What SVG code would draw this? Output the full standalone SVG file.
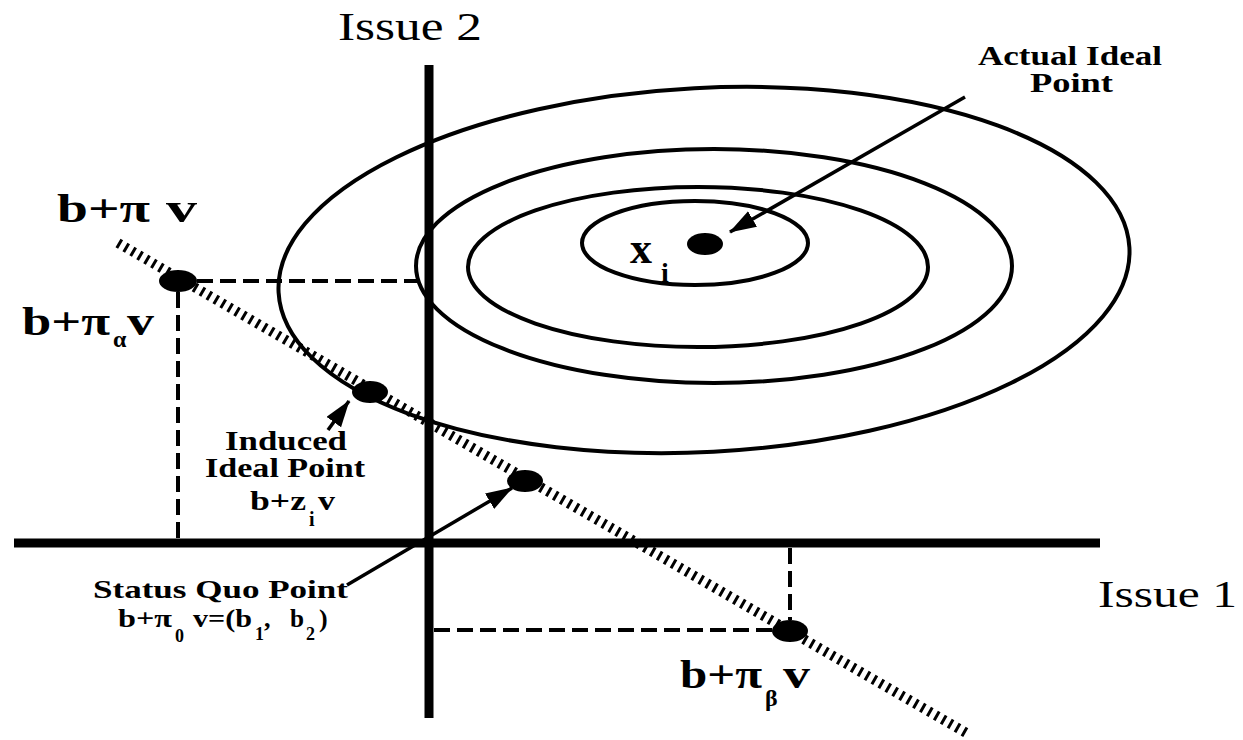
<svg xmlns="http://www.w3.org/2000/svg" width="1243" height="740" viewBox="0 0 1243 740">
<style>
.axis{stroke:#000;stroke-width:9;fill:none}
.ell{stroke:#000;stroke-width:4;fill:none}
.dash{stroke:#000;stroke-width:4;stroke-dasharray:16 7;fill:none}
.hatch{stroke:#000;stroke-width:10;stroke-dasharray:3 5;fill:none}
.arr{stroke:#000;stroke-width:3.5;fill:none}
.dot{fill:#000}
.lbl{font-family:"Liberation Serif","Times New Roman",serif;font-weight:bold;fill:#000}
.ax{font-family:"Liberation Serif","Times New Roman",serif;fill:#000}
</style>
<defs>
<marker id="ah" markerUnits="userSpaceOnUse" markerWidth="30" markerHeight="20" refX="26" refY="9" orient="auto">
<path d="M0,0 L27,9 L0,18 Z" fill="#000"/>
</marker>
</defs>
<rect width="1243" height="740" fill="#fff"/>
<g id="axes">
<line class="axis" x1="14" y1="543" x2="1100" y2="543"/>
<line class="axis" x1="429" y1="65" x2="429" y2="718"/>
</g>
<g id="ellipses">
<ellipse class="ell" cx="704" cy="270" rx="426" ry="182" transform="rotate(-3 704 270)"/>
<ellipse class="ell" cx="714" cy="266" rx="298" ry="117"/>
<ellipse class="ell" cx="698" cy="267" rx="230" ry="80"/>
<ellipse class="ell" cx="695" cy="243" rx="113" ry="42"/>
</g>
<g id="connectors">
<line class="hatch" x1="118" y1="243" x2="968" y2="734"/>
<line class="dash" x1="197" y1="281" x2="425" y2="281"/>
<line class="dash" x1="178" y1="292" x2="178" y2="540"/>
<line class="dash" x1="790" y1="548" x2="790" y2="620"/>
<line class="dash" x1="434" y1="630" x2="772" y2="630"/>
<line class="arr" x1="965" y1="97" x2="730" y2="232" marker-end="url(#ah)"/>
<line class="arr" x1="347" y1="585" x2="512" y2="488" marker-end="url(#ah)"/>
<line class="arr" x1="328" y1="430" x2="349" y2="401" marker-end="url(#ah)"/>
</g>
<g id="point-b-pi-v">
<ellipse class="dot" cx="178" cy="281" rx="19" ry="11"/>
<text class="lbl" font-size="40" x="57" y="222" textLength="93" lengthAdjust="spacingAndGlyphs">b+π</text>
<text class="lbl" font-size="40" x="166" y="222" textLength="31" lengthAdjust="spacingAndGlyphs">v</text>
<text class="lbl" font-size="40" x="22" y="335" textLength="88" lengthAdjust="spacingAndGlyphs">b+π</text>
<text class="lbl" font-size="24" x="113" y="347">α</text>
<text class="lbl" font-size="40" x="127" y="335" textLength="27" lengthAdjust="spacingAndGlyphs">v</text>
</g>
<g id="point-induced">
<ellipse class="dot" cx="370" cy="392" rx="18" ry="11"/>
<text class="lbl" font-size="28" x="225" y="450" textLength="122" lengthAdjust="spacingAndGlyphs">Induced</text>
<text class="lbl" font-size="28" x="205" y="477" textLength="160" lengthAdjust="spacingAndGlyphs">Ideal Point</text>
<text class="lbl" font-size="28" x="250" y="510" textLength="56" lengthAdjust="spacingAndGlyphs">b+z</text>
<text class="lbl" font-size="20" x="309" y="526">i</text>
<text class="lbl" font-size="28" x="318" y="510" textLength="17" lengthAdjust="spacingAndGlyphs">v</text>
</g>
<g id="point-status-quo">
<ellipse class="dot" cx="525" cy="481" rx="18" ry="11"/>
<text class="lbl" font-size="26" x="93" y="598" textLength="255" lengthAdjust="spacingAndGlyphs">Status Quo Point</text>
<text class="lbl" font-size="26" x="118" y="627" textLength="54" lengthAdjust="spacingAndGlyphs">b+π</text>
<text class="lbl" font-size="18" x="175" y="642">0</text>
<text class="lbl" font-size="26" x="193" y="627" textLength="59" lengthAdjust="spacingAndGlyphs">v=(b</text>
<text class="lbl" font-size="18" x="255" y="640">1</text>
<text class="lbl" font-size="26" x="264" y="627">,</text>
<text class="lbl" font-size="26" x="290" y="627" textLength="14" lengthAdjust="spacingAndGlyphs">b</text>
<text class="lbl" font-size="18" x="306" y="640">2</text>
<text class="lbl" font-size="26" x="319" y="627">)</text>
</g>
<g id="point-b-pi-beta-v">
<ellipse class="dot" cx="790" cy="631" rx="18" ry="11"/>
<text class="lbl" font-size="40" x="680" y="688" textLength="82" lengthAdjust="spacingAndGlyphs">b+π</text>
<text class="lbl" font-size="24" x="765" y="706">β</text>
<text class="lbl" font-size="40" x="783" y="688" textLength="27" lengthAdjust="spacingAndGlyphs">v</text>
</g>
<g id="point-actual-ideal">
<ellipse class="dot" cx="705" cy="244" rx="18" ry="11"/>
<text class="lbl" font-size="44" x="630" y="263">x</text>
<text class="lbl" font-size="28" x="661" y="282">i</text>
<text class="lbl" font-size="28" x="978" y="65" textLength="184" lengthAdjust="spacingAndGlyphs">Actual Ideal</text>
<text class="lbl" font-size="28" x="1030" y="92" textLength="83" lengthAdjust="spacingAndGlyphs">Point</text>
</g>
<g id="axis-labels">
<text class="ax" font-size="40" x="338" y="40" textLength="144" lengthAdjust="spacingAndGlyphs">Issue 2</text>
<text class="ax" font-size="38" x="1098" y="607" textLength="139" lengthAdjust="spacingAndGlyphs">Issue 1</text>
</g>
</svg>
